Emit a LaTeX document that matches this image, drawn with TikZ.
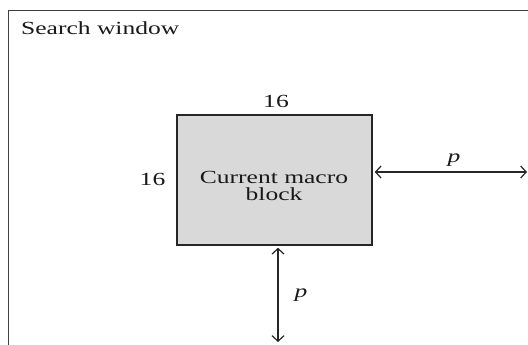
\documentclass[tikz,border=0pt]{standalone}
\usepackage{fontspec}
\setmainfont{Liberation Serif}
\usetikzlibrary{arrows.meta}
\newcommand\stretchtxt[1]{\scalebox{1.38}[1]{#1}}
\tikzset{
  lbl/.style={inner sep=0pt, text=black!90, font=\fontsize{18.5}{17}\selectfont},
  dimarrow/.style={draw=black!85, line width=1.2pt,
    {Straight Barb[length=5.5pt,width=12pt]}-{Straight Barb[length=5.5pt,width=12pt]}},
  mbox/.style={draw=black!85, line width=1.5pt, fill=black!15, minimum width=195pt,
    minimum height=130pt, inner sep=0pt},
  frame/.style={draw=black!75, line width=1.3pt, minimum width=560pt, minimum height=380pt, inner sep=0pt}
}
\begin{document}
\begin{tikzpicture}[x=1pt,y=-1pt]
\clip (0,0) rectangle (528,345);
\fill[white] (0,0) rectangle (528,345);
\node[frame, anchor=north west] (win) at (8,10) {};
\node[lbl, anchor=base west] (title) at (21,35) {\stretchtxt{Search window}};
\node[mbox] (mb) at (274.5,180) {};
\node[lbl, anchor=base] (l1) at (274,183) {\stretchtxt{Current macro}};
\node[lbl, anchor=base] (l2) at (274,200.5) {\stretchtxt{block}};
\node[lbl, anchor=base] (w16) at (276,108) {\stretchtxt{16}};
\node[lbl, anchor=base] (h16) at (152.5,185) {\stretchtxt{16}};
\coordinate (rend) at (527,172);
\coordinate (bend) at (278,342);
\draw[dimarrow, shorten <=2pt] (mb.east |- rend) -- (rend);
\draw[dimarrow, shorten <=2pt] (mb.south -| bend) -- (bend);
\node[lbl, anchor=base] (pr) at (454,162) {\stretchtxt{\itshape p}};
\node[lbl, anchor=base] (pb) at (301,297) {\stretchtxt{\itshape p}};
\end{tikzpicture}
\end{document}
